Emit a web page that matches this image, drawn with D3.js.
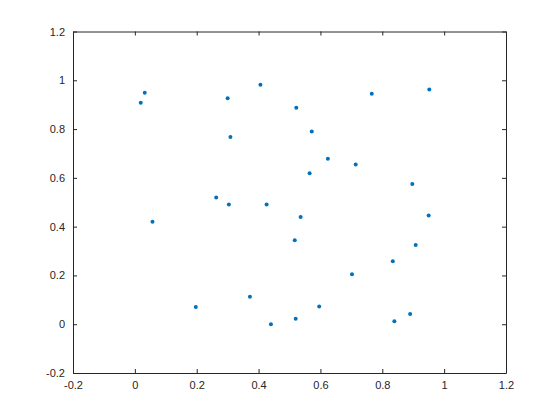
<!DOCTYPE html>
<html>
<head>
<meta charset="utf-8">
<script src="https://cdn.jsdelivr.net/npm/d3@7"></script>
<style>
  body { margin: 0; background: #fff; }
  .tick text { font-family: "Liberation Sans", Arial, sans-serif; font-size: 11px; fill: #262626; }
  .domain, .tick line { stroke: #262626; }
</style>
</head>
<body>
<svg id="chart" width="560" height="420"></svg>
<script>
const xs = [0.032, 0.019, 0.300, 0.406, 0.522, 0.766, 0.952, 0.572, 0.309, 0.624,
  0.714, 0.565, 0.897, 0.263, 0.304, 0.426, 0.536, 0.950, 0.057, 0.517,
  0.908, 0.834, 0.702, 0.372, 0.197, 0.596, 0.520, 0.440, 0.839, 0.890];
const ys = [0.949, 0.908, 0.926, 0.982, 0.887, 0.945, 0.962, 0.790, 0.768, 0.678,
  0.655, 0.619, 0.575, 0.519, 0.491, 0.491, 0.440, 0.446, 0.420, 0.344,
  0.325, 0.258, 0.205, 0.113, 0.071, 0.073, 0.022, 0.000, 0.012, 0.042];
const xTicks = [-0.2, 0, 0.2, 0.4, 0.6, 0.8, 1, 1.2];
const yTicks = [-0.2, 0, 0.2, 0.4, 0.6, 0.8, 1, 1.2];

const svg = d3.select("#chart");
const mLeft = 73, mRight = 506, mTop = 31.5, mBottom = 373;

const x = d3.scaleLinear().domain([-0.2, 1.2]).range([mLeft, mRight]);
const y = d3.scaleLinear().domain([-0.2, 1.2]).range([mBottom, mTop]);
const fmt = (d) => String(+d.toFixed(1));

svg.append("g").attr("transform", `translate(0,${mBottom})`)
  .call(d3.axisBottom(x).tickValues(xTicks).tickFormat(fmt).tickSizeInner(-4).tickSizeOuter(0).tickPadding(8));
svg.append("g").attr("transform", `translate(0,${mTop})`)
  .call(d3.axisTop(x).tickValues(xTicks).tickFormat("").tickSizeInner(-4).tickSizeOuter(0));
svg.append("g").attr("transform", `translate(${mLeft},0)`)
  .call(d3.axisLeft(y).tickValues(yTicks).tickFormat(fmt).tickSizeInner(-4).tickSizeOuter(0).tickPadding(8));
svg.append("g").attr("transform", `translate(${mRight},0)`)
  .call(d3.axisRight(y).tickValues(yTicks).tickFormat("").tickSizeInner(-4).tickSizeOuter(0));

svg.append("g")
  .selectAll("circle")
  .data(xs.map((v, i) => [v, ys[i]]))
  .join("circle")
  .attr("cx", (d) => x(d[0]))
  .attr("cy", (d) => y(d[1]))
  .attr("r", 2)
  .attr("fill", "#0072BD");
</script>
</body>
</html>
